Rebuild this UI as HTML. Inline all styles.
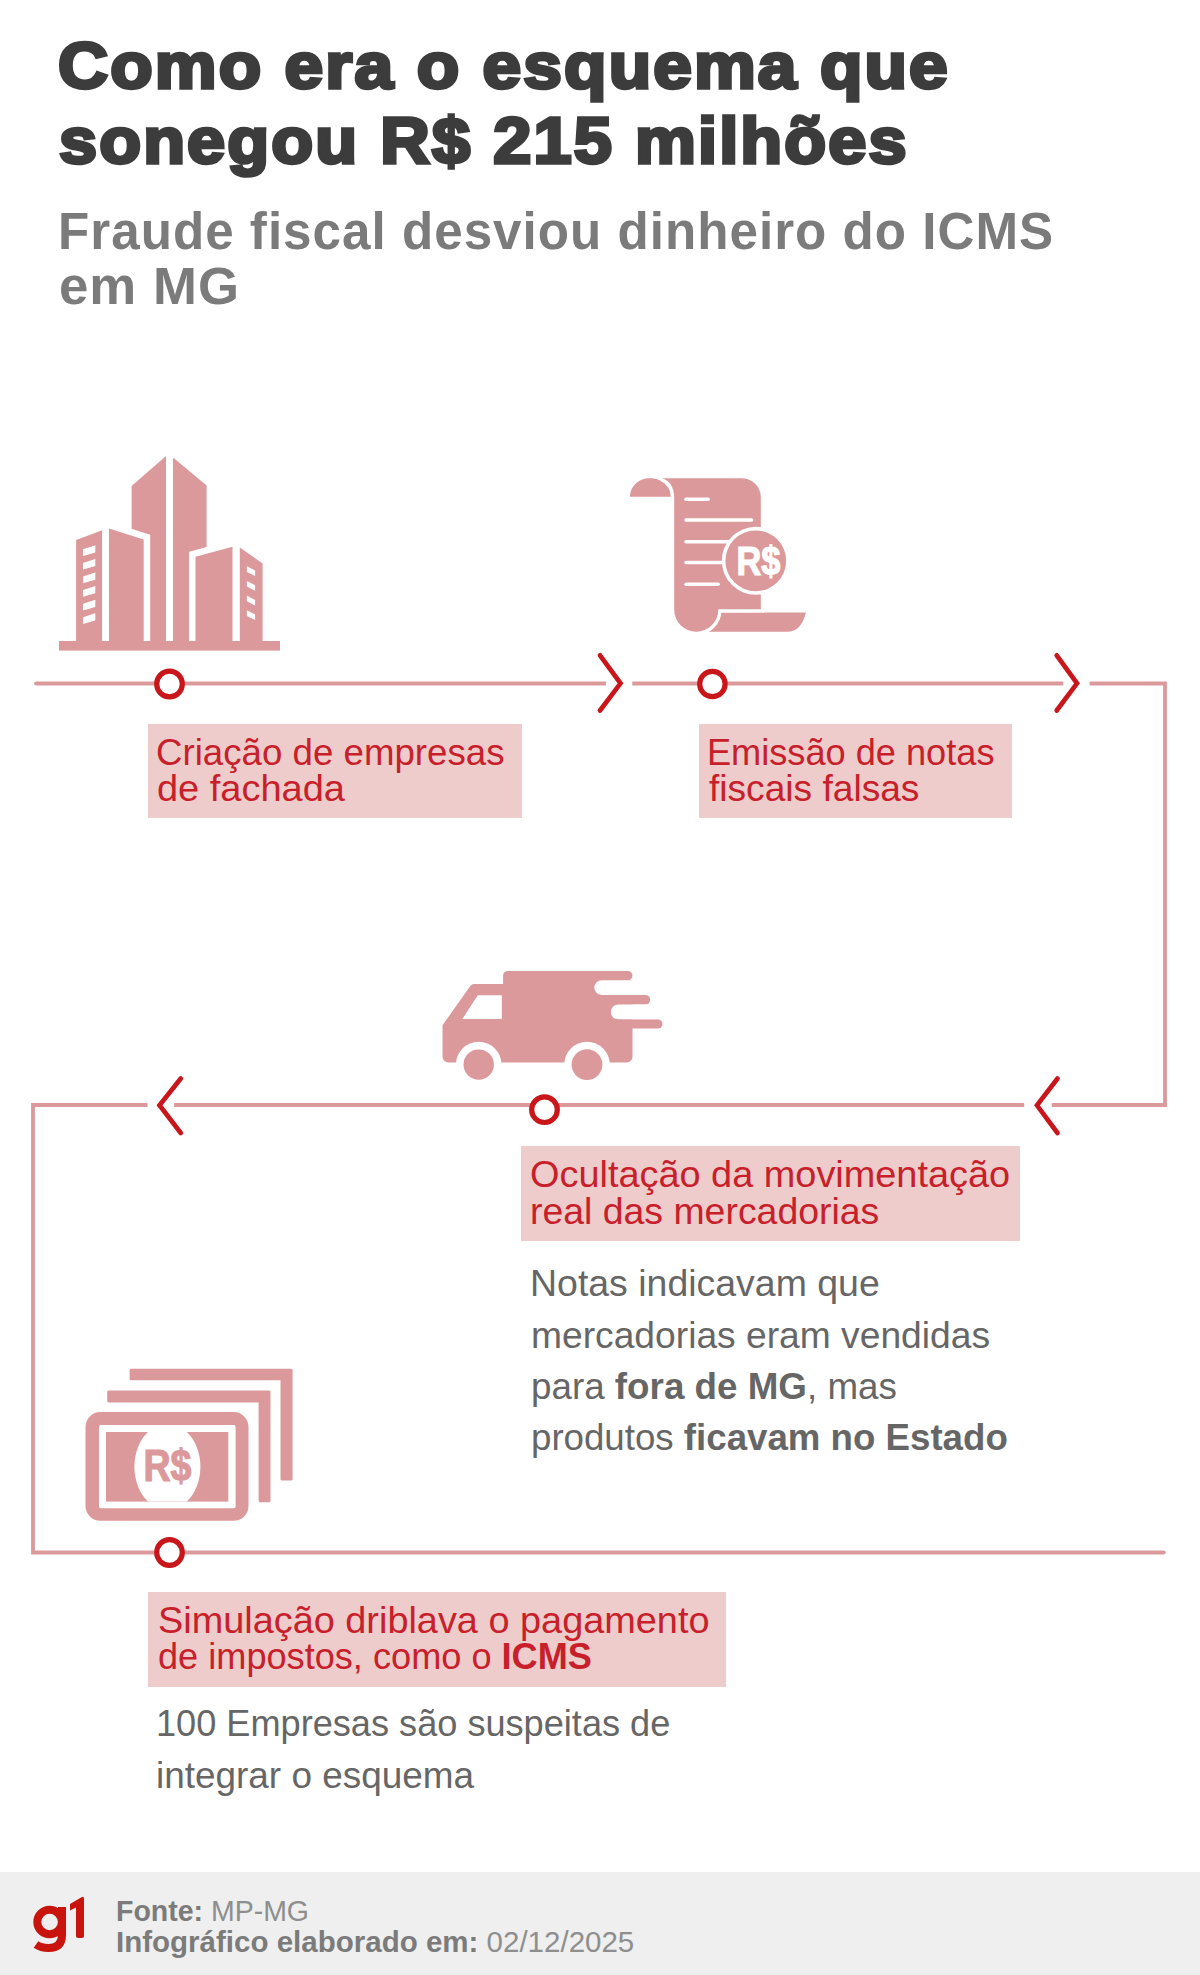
<!DOCTYPE html>
<html lang="pt-BR">
<head>
<meta charset="utf-8">
<title>Como era o esquema que sonegou R$ 215 milhões</title>
<style>
html,body{margin:0;padding:0;background:#fff;}
body{position:relative;width:1200px;height:1975px;overflow:hidden;font-family:"Liberation Sans",sans-serif;}
.t{position:absolute;white-space:nowrap;line-height:1;transform-origin:0 0;}
.title{font-weight:bold;color:#3c3c3c;-webkit-text-stroke:3.5px #3c3c3c;letter-spacing:2px;}
.sub{font-weight:bold;color:#7b7b7b;letter-spacing:1px;}
.red{color:#c8202a;}
.gray{color:#666666;}
.ft{color:#7b7b7b;}
b{font-weight:bold;}
.lt{font-weight:normal;color:#8e8e8e;}
.box{position:absolute;background:#eecccb;}
.foot{position:absolute;left:0;top:1872px;width:1200px;height:103px;background:#efefef;}
svg{position:absolute;left:0;top:0;}
</style>
</head>
<body>
<div class="box" style="left:148px;top:723.5px;width:374px;height:94.5px"></div>
<div class="box" style="left:699px;top:723.5px;width:313px;height:94.5px"></div>
<div class="box" style="left:521.3px;top:1146.3px;width:498.7px;height:94.3px"></div>
<div class="box" style="left:148.3px;top:1592.3px;width:577.7px;height:94.4px"></div>
<div class="foot"></div>

<svg width="1200" height="1975" viewBox="0 0 1200 1975">
<!-- flow lines -->
<g fill="none" stroke="#dc999b" stroke-width="3.8" stroke-linejoin="miter">
<path d="M35.8,683.5 H606"/>
<path d="M632.3,683.5 H1063.3"/>
<path d="M1089.6,683.5 H1165 V1105 H1051.7"/>
<path d="M1024.2,1105 H174.2"/>
<path d="M147.5,1105 H33 V1552.5 H1164"/>
</g>
<g fill="#dc999b">
<circle cx="35.8" cy="683.5" r="1.8"/>
<circle cx="1164" cy="1552.5" r="1.8"/>
</g>
<!-- arrows -->
<g fill="none" stroke="#c8161a" stroke-width="4.7" stroke-linecap="round" stroke-linejoin="miter" stroke-miterlimit="10">
<path d="M600,655.3 L620.5,683.3 L600,710.5"/>
<path d="M1056.7,655.3 L1077,683.3 L1056.7,710.5"/>
<path d="M1057.5,1078.5 L1037,1105.3 L1057.5,1133"/>
<path d="M180.8,1078.5 L159.5,1105.3 L180.8,1133"/>
</g>
<!-- nodes -->
<g fill="#fff" stroke="#c8161a" stroke-width="5.2">
<circle cx="169.5" cy="684" r="12.8"/>
<circle cx="712.4" cy="684" r="12.7"/>
<circle cx="544.5" cy="1109.7" r="12.8"/>
<circle cx="169.5" cy="1552.5" r="12.8"/>
</g>

<!-- buildings icon -->
<g fill="#dc999b">
<polygon points="131.6,486 166,456 166,641 131.6,641"/>
<polygon points="173,457.6 206.6,485.5 206.6,641 173,641"/>
</g>
<g fill="#dc999b" stroke="#fff" stroke-width="13" paint-order="stroke" stroke-linejoin="miter">
<polygon points="76.1,540 102.1,530.3 102.1,645 76.1,645"/>
<polygon points="109,528.5 143.7,539.5 143.7,645 109,645"/>
<polygon points="195.5,556.8 232.5,546.8 232.5,645 195.5,645"/>
<polygon points="239.8,547.5 262.6,563.4 262.6,645 239.8,645"/>
</g>
<g fill="#fff">
<polygon points="83,549.3 95.3,545.3 95.3,552.5 83,556"/>
<polygon points="83,562.9 95.3,558.9 95.3,566.1 83,569.6"/>
<polygon points="83,576.5 95.3,572.5 95.3,579.7 83,583.2"/>
<polygon points="83,590.1 95.3,586.1 95.3,593.3 83,596.8"/>
<polygon points="83,603.7 95.3,599.7 95.3,606.9 83,610.4"/>
<polygon points="83,617.3 95.3,613.3 95.3,620.5 83,624"/>
<polygon points="246.9,566.2 255.1,570.5 255.1,576 246.9,571.9"/>
<polygon points="246.9,580.9 255.1,585.2 255.1,590.7 246.9,586.6"/>
<polygon points="246.9,595.6 255.1,599.9 255.1,605.4 246.9,601.3"/>
<polygon points="246.9,610.3 255.1,614.6 255.1,620.1 246.9,616"/>
</g>
<rect x="59" y="641" width="221" height="9.6" fill="#dc999b"/>

<!-- receipt icon -->
<g fill="#dc999b">
<path d="M630,496.7 C630,486 639,478.3 650,478.3 C662,478.3 670.8,487 670.8,496.7 Z"/>
<path d="M690,612.5 H805.8 C804,622 798,631.7 788.3,631.7 H690 Z"/>
</g>
<path d="M662,478.2 H741.8 A19,19 0 0 1 760.8,497.2 V609.2 H718.3 V609.7 A22,22 0 0 1 674.2,609.7 V497 C674.2,487 669,480 662,478.2 Z" fill="#dc999b" stroke="#fff" stroke-width="6.6" paint-order="stroke"/>
<g stroke="#fff" stroke-width="3.5" stroke-linecap="round">
<line x1="686" y1="499.2" x2="708.2" y2="499.2"/>
<line x1="686" y1="520" x2="751.5" y2="520"/>
<line x1="686" y1="541.7" x2="740" y2="541.7"/>
<line x1="686" y1="562.5" x2="740" y2="562.5"/>
<line x1="686" y1="584.2" x2="718.2" y2="584.2"/>
</g>
<circle cx="755.8" cy="560.8" r="34" fill="#fff"/>
<circle cx="755.8" cy="560.8" r="30.4" fill="#dc999b"/>
<text x="736.5" y="574.5" fill="#fff" stroke="#fff" stroke-width="1.2" font-family="Liberation Sans" font-weight="bold" font-size="41" textLength="44" lengthAdjust="spacingAndGlyphs">R$</text>

<!-- truck icon -->
<g fill="#dc999b">
<path d="M507.8,970.9 H627.8 A4.7,4.7 0 0 1 627.8,980.3 H632.5 V1056.4 A6,6 0 0 1 626.5,1062.4 H448.5 A6,6 0 0 1 442.5,1056.4 V1025.3 L470.3,985.9 Q471.5,984 474,984 H503.1 V975.4 A4.5,4.5 0 0 1 507.8,970.9 Z"/>
<rect x="590" y="994.9" width="60.1" height="9.7" rx="4.85"/>
<rect x="600" y="1019.3" width="62.5" height="9.3" rx="4.65"/>
</g>
<g fill="#fff">
<rect x="594.3" y="980.3" width="80" height="14.6" rx="7.3"/>
<rect x="610.8" y="1004.6" width="80" height="14.7" rx="7.35"/>
<polygon points="462.4,1018.9 477.8,995.3 501.8,995.3 501.8,1018.9"/>
<circle cx="478.7" cy="1064.6" r="22.8"/>
<circle cx="587" cy="1064.6" r="22.8"/>
</g>
<g fill="#dc999b">
<rect x="632.5" y="980" width="0.01" height="0.01"/>
<circle cx="478.7" cy="1064.6" r="15.2"/>
<circle cx="587" cy="1064.6" r="15.4"/>
</g>

<!-- money icon -->
<g fill="#dc999b">
<path d="M131,1368.8 H291.2 Q292.6,1368.8 292.6,1370.2 V1479 Q292.6,1480.5 291.2,1480.5 H281.9 Q280.5,1480.5 280.5,1479 V1380.3 H131 Q129.6,1380.3 129.6,1379 V1370.2 Q129.6,1368.8 131,1368.8 Z"/>
<path d="M108.6,1390.5 H269.1 Q270.5,1390.5 270.5,1391.9 V1500.8 Q270.5,1502.2 269.1,1502.2 H260 Q258.6,1502.2 258.6,1500.8 V1402.5 H108.6 Q107.2,1402.5 107.2,1401.1 V1391.9 Q107.2,1390.5 108.6,1390.5 Z"/>
<rect x="85.5" y="1412" width="163" height="108.8" rx="15"/>
</g>
<rect x="99" y="1425" width="136.6" height="83.3" rx="2" fill="#fff"/>
<rect x="106" y="1432" width="122.3" height="69.6" fill="#dc999b"/>
<path d="M148,1432 H186.8 A33,43 0 0 1 186.8,1501.6 H148 A33,43 0 0 1 148,1432 Z" fill="#fff"/>
<text x="143.5" y="1481" fill="#dc999b" stroke="#dc999b" stroke-width="1.2" font-family="Liberation Sans" font-weight="bold" font-size="45" textLength="48" lengthAdjust="spacingAndGlyphs">R$</text>

<!-- g1 logo -->
<g fill="none" stroke="#c8140c" stroke-width="8">
<circle cx="49.6" cy="1922" r="12.3"/>
<path d="M62,1907 V1935 Q62,1948 48.5,1948 Q41,1948 36,1944.5"/>
</g>
<path d="M70,1904 L81.5,1897.2 Q84,1896 84,1899 V1936 Q84,1938 82,1938 H78 Q76,1938 76,1936 V1907.5 L70,1910.5 Z" fill="#c8140c"/>
</svg>

<div class="t title" style="left:57.93px;top:33.30px;font-size:65px;transform:scaleX(1.0679)">Como era o esquema que</div>
<div class="t title" style="left:59.37px;top:107.50px;font-size:65px;transform:scaleX(1.0539)">sonegou R$ 215 milhões</div>
<div class="t sub" style="left:58.38px;top:206.00px;font-size:51px;transform:scaleX(1.0033)">Fraude fiscal desviou dinheiro do ICMS</div>
<div class="t sub" style="left:58.93px;top:261.00px;font-size:51px;transform:scaleX(1.0343)">em MG</div>
<div class="t red" style="left:156.35px;top:734.50px;font-size:36px;transform:scaleX(1.0186)">Criação de empresas</div>
<div class="t red" style="left:157.32px;top:771.30px;font-size:36px;transform:scaleX(1.0548)">de fachada</div>
<div class="t red" style="left:706.99px;top:734.50px;font-size:36px;transform:scaleX(1.0046)">Emissão de notas</div>
<div class="t red" style="left:708.97px;top:771.30px;font-size:36px;transform:scaleX(1.0312)">fiscais falsas</div>
<div class="t red" style="left:529.90px;top:1157.00px;font-size:36px;transform:scaleX(1.0523)">Ocultação da movimentação</div>
<div class="t red" style="left:529.92px;top:1193.70px;font-size:36px;transform:scaleX(1.0390)">real das mercadorias</div>
<div class="t red" style="left:157.51px;top:1602.70px;font-size:36px;transform:scaleX(1.0518)">Simulação driblava o pagamento</div>
<div class="t red" style="left:157.59px;top:1639.30px;font-size:36px;transform:scaleX(1.0040)">de impostos, como o <b>ICMS</b></div>
<div class="t gray" style="left:530.49px;top:1265.80px;font-size:36px;transform:scaleX(1.0404)">Notas indicavam que</div>
<div class="t gray" style="left:530.51px;top:1317.50px;font-size:36px;transform:scaleX(1.0334)">mercadorias eram vendidas</div>
<div class="t gray" style="left:530.54px;top:1369.20px;font-size:36px;transform:scaleX(1.0218)">para <b>fora de MG</b>, mas</div>
<div class="t gray" style="left:530.55px;top:1420.30px;font-size:36px;transform:scaleX(1.0183)">produtos <b>ficavam no Estado</b></div>
<div class="t gray" style="left:156.38px;top:1705.80px;font-size:36px;transform:scaleX(1.0039)">100 Empresas são suspeitas de</div>
<div class="t gray" style="left:156.32px;top:1757.50px;font-size:36px;transform:scaleX(1.0254)">integrar o esquema</div>
<div class="t ft" style="left:115.84px;top:1897.00px;font-size:29px;transform:scaleX(0.9822)"><b>Fonte:</b> <span class="lt">MP-MG</span></div>
<div class="t ft" style="left:115.74px;top:1928.00px;font-size:29px;transform:scaleX(1.0176)"><b>Infográfico elaborado em:</b> <span class="lt">02/12/2025</span></div>
</body>
</html>
